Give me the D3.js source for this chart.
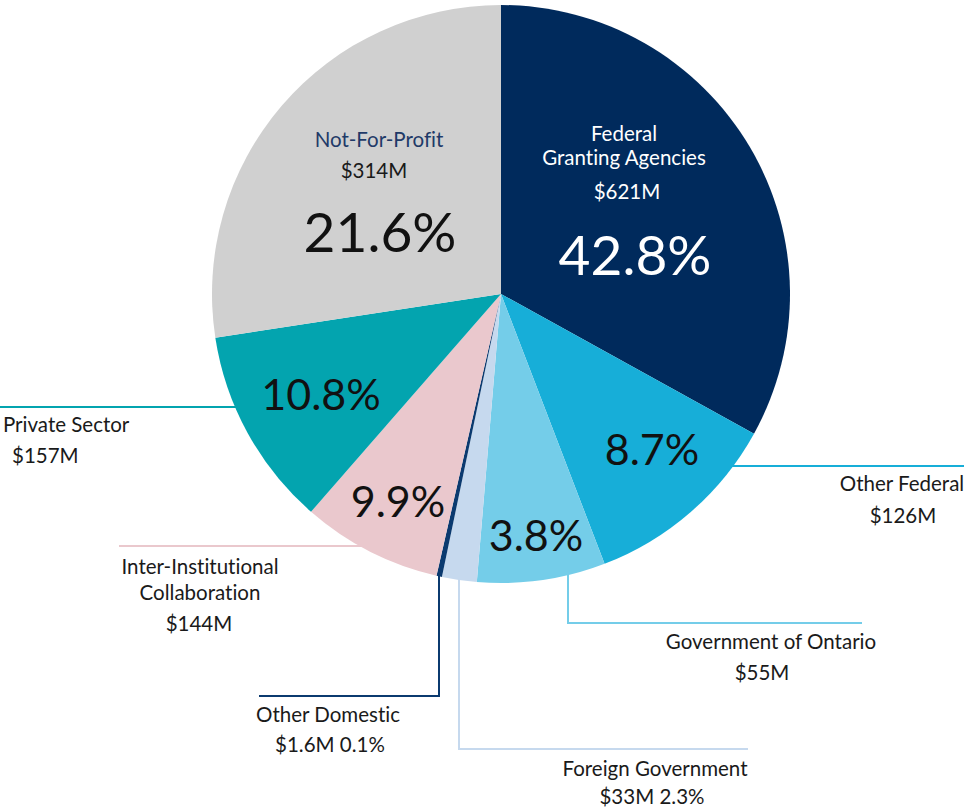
<!DOCTYPE html>
<html>
<head>
<meta charset="utf-8">
<script src="https://cdn.jsdelivr.net/npm/d3@7"></script>
<style>
  html, body { margin: 0; padding: 0; background: #ffffff; }
  svg { display: block; font-variant-ligatures: none; }
</style>
</head>
<body>
<div id="chart"></div>
<script>
// funding sources, clockwise from 12 o'clock
const categories = [
  ["Federal", "Granting Agencies"],
  ["Other Federal"],
  ["Government of Ontario"],
  ["Foreign Government"],
  ["Other Domestic"],
  ["Inter-Institutional", "Collaboration"],
  ["Private Sector"],
  ["Not-For-Profit"]
];
const amounts = ["$621M", "$126M", "$55M", "$33M", "$1.6M", "$144M", "$157M", "$314M"];
const percents = [42.8, 8.7, 3.8, 2.3, 0.1, 9.9, 10.8, 21.6];
// slice sizes as drawn in the source graphic (degrees), they are not proportional to the percents
const drawnShares = [118.9, 40.1, 25.8, 7.0, 1.1, 28.2, 40.2, 98.7];
const colors = ["#002a5c", "#17aed8", "#74cde9", "#c6d9ee", "#0b3a6f", "#eac8cd", "#03a4af", "#d0d0d0"];

const width = 965;
const height = 807;
const cx = 501, cy = 294, radius = 289;
const font = "Lato, 'Open Sans', sans-serif";

// label placement per slice: pct = big percent inside slice, lines = name + amount
const layout = [
  {pct: [635, 275, 55, "#ffffff"], fill: "#ffffff", anchor: "middle", lines: [[624, 141], [624, 165], [627, 199]]},
  {pct: [652, 465, 43, "#111111"], fill: "#1a1a1a", anchor: "middle", lines: [[902, 491], [903, 523]], leader: {h: 466, x2: 964}},
  {pct: [536, 551, 43, "#111111"], fill: "#1a1a1a", anchor: "middle", lines: [[771, 649], [762, 680]], leader: {v: 568, y2: 623, x2: 862}},
  {pct: null, fill: "#1a1a1a", anchor: "middle", lines: [[655, 776], [652, 804]], leader: {v: 459, y2: 749, x2: 748}, withPct: true},
  {pct: null, fill: "#1a1a1a", anchor: "middle", lines: [[328, 722], [330, 752]], leader: {v: 439, y2: 696, x2: 259}, withPct: true},
  {pct: [398, 517, 43, "#111111"], fill: "#1a1a1a", anchor: "middle", lines: [[200, 574], [200, 600], [199, 631]], leader: {h: 546, x2: 119}},
  {pct: [321, 410, 43, "#111111"], fill: "#1a1a1a", anchor: "start", lines: [[3, 432], [12, 463]], leader: {h: 407, x2: 0}},
  {pct: [380, 252, 55, "#111111"], fill: "#1a1a1a", nameFill: "#1f3a68", anchor: "middle", lines: [[379, 147], [374, 178]]}
];

const data = categories.map((c, i) => ({
  name: c, amount: amounts[i], pct: percents[i], share: drawnShares[i], color: colors[i], pos: layout[i]
}));

const svg = d3.select("#chart").append("svg")
  .attr("width", width)
  .attr("height", height)
  .attr("viewBox", [0, 0, width, height])
  .style("font-family", font);

const pie = d3.pie().sort(null).value(d => d.share).startAngle(0).endAngle(2 * Math.PI);
const arc = d3.arc().innerRadius(0).outerRadius(radius);
const arcs = pie(data);

// leader lines, start point found on the pie rim
const leaders = svg.append("g").attr("fill", "none").attr("stroke-width", 2);
arcs.forEach(a => {
  const L = a.data.pos.leader;
  if (!L) return;
  let pts;
  if (L.h !== undefined) {
    const dy = L.h - cy;
    const dx = Math.sqrt(radius * radius - dy * dy);
    const xRim = L.x2 > cx ? cx + dx - 4 : cx - dx + 4;
    pts = [[xRim, L.h], [L.x2, L.h]];
  } else {
    const dx = L.v - cx;
    const yRim = cy + Math.sqrt(radius * radius - dx * dx) - 4;
    pts = [[L.v, yRim], [L.v, L.y2], [L.x2, L.y2]];
  }
  leaders.append("path").attr("d", d3.line()(pts)).attr("stroke", a.data.color);
});

svg.append("g")
  .attr("transform", `translate(${cx},${cy})`)
  .selectAll("path")
  .data(arcs)
  .join("path")
  .attr("d", arc)
  .attr("fill", d => d.data.color);

// percent labels inside slices
svg.append("g").selectAll("text")
  .data(data.filter(d => d.pos.pct))
  .join("text")
  .attr("x", d => d.pos.pct[0])
  .attr("y", d => d.pos.pct[1])
  .attr("font-size", d => d.pos.pct[2])
  .attr("fill", d => d.pos.pct[3])
  .attr("text-anchor", "middle")
  .text(d => d.pct.toFixed(1) + "%");

// names and amounts
data.forEach(d => {
  const texts = [...d.name, d.pos.withPct ? `${d.amount} ${d.pct.toFixed(1)}%` : d.amount];
  texts.forEach((t, j) => {
    const isName = j < d.name.length;
    svg.append("text")
      .attr("x", d.pos.lines[j][0])
      .attr("y", d.pos.lines[j][1])
      .attr("font-size", 20.5)
      .attr("text-anchor", d.pos.anchor)
      .attr("fill", isName && d.pos.nameFill ? d.pos.nameFill : d.pos.fill)
      .text(t);
  });
});
</script>
</body>
</html>
